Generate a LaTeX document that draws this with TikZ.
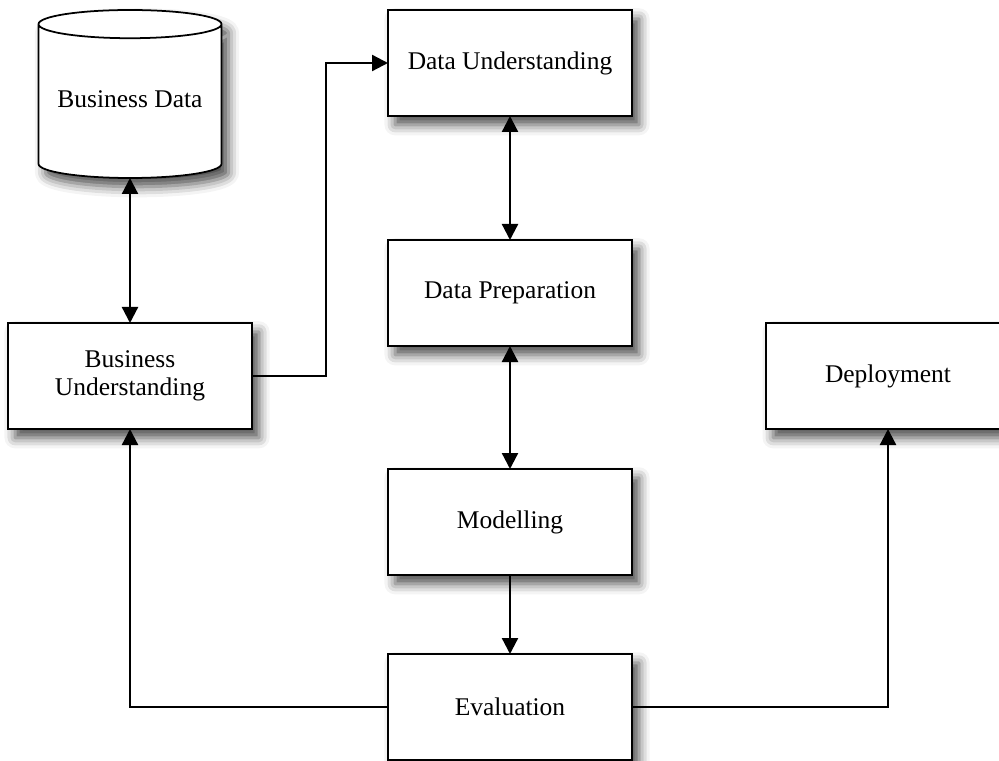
\documentclass[tikz,border=0pt]{standalone}
\usepackage{fontspec}
\setmainfont{Liberation Serif}
\usepackage{tikz}
\usetikzlibrary{arrows.meta,positioning,shapes.geometric,shadows.blur}

\begin{document}
\begin{tikzpicture}[
  font=\fontsize{14.5pt}{16pt}\selectfont,
  shade/.style={blur shadow={shadow xshift=4pt, shadow yshift=-5pt, shadow blur radius=6pt, shadow opacity=70}},
  box/.style={draw, fill=white, line width=1pt, align=center, minimum height=2.12cm, minimum width=4.88cm, inner sep=2pt, outer sep=0pt, shade},
  store/.style={draw, fill=white, line width=1pt, cylinder, shape border rotate=90, aspect=0.18, minimum height=3.36cm, minimum width=3.66cm, outer sep=0pt, shade},
  arrow/.style={-{Triangle[length=0.32cm, width=0.32cm]}, line width=1.3pt},
  both/.style={{Triangle[length=0.32cm, width=0.32cm]}-{Triangle[length=0.32cm, width=0.32cm]}, line width=1.3pt}
]
  \useasboundingbox (0,0) rectangle (19.98,-15.22);

  % Main column
  \node[box] (du) at (10.2,-1.26) {Data Understanding};
  \node[box, below=2.48cm of du] (dp) {Data Preparation};
  \node[box, below=2.46cm of dp] (mod) {Modelling};
  \node[box, below=1.58cm of mod] (ev) {Evaluation};

  % Side boxes
  \node[box] (bu) at (2.6,-7.52) {Business\\Understanding};
  \node[box] (dep) at (17.76,-7.52) {Deployment};
  \node[store, above=2.9cm of bu] (bd) {\raisebox{0.18cm}{Business Data}};

  % Arrows
  \draw[both] (bd) -- (bu);
  \draw[arrow] (bu.east) -- ++(1.48cm,0) |- (du.west);

  \draw[both] (du) -- (dp);
  \draw[both] (dp) -- (mod);
  \draw[arrow] (mod) -- (ev);

  \draw[arrow] (ev.west) -| (bu.south);
  \draw[arrow] (ev.east) -| (dep.south);
\end{tikzpicture}
\end{document}
